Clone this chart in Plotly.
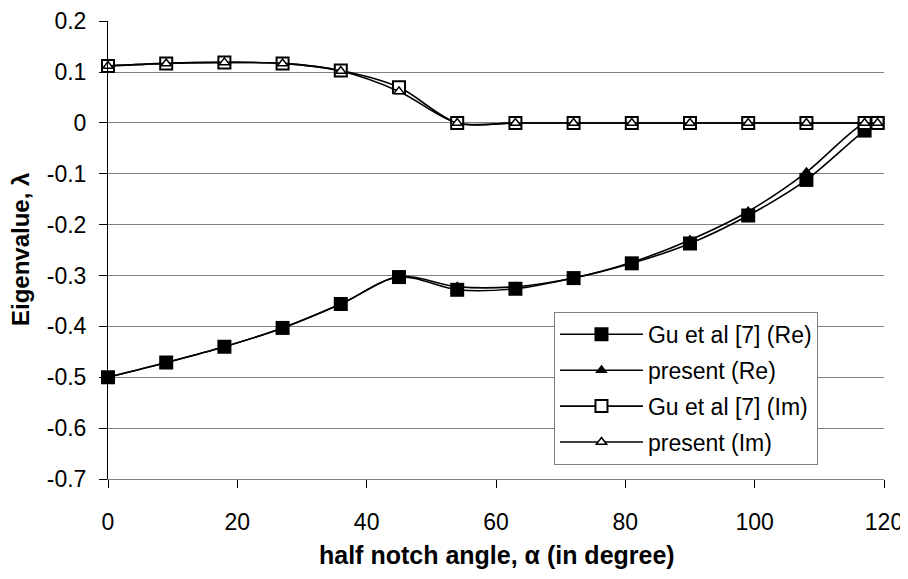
import plotly.graph_objects as go

# ---- data ----
angle = [0, 9, 18, 27, 36, 45, 54, 63, 72, 81, 90, 99, 108, 117, 119]
gu_re = [-0.500, -0.471, -0.440, -0.403, -0.356, -0.303, -0.328, -0.326,
         -0.305, -0.276, -0.237, -0.182, -0.112, -0.015, 0.000]
present_re = [-0.500, -0.471, -0.440, -0.403, -0.356, -0.302, -0.322, -0.322,
              -0.305, -0.274, -0.230, -0.174, -0.097, 0.000, 0.000]
gu_im = [0.112, 0.117, 0.119, 0.117, 0.103, 0.070, 0.000, 0.000,
         0.000, 0.000, 0.000, 0.000, 0.000, 0.000, 0.000]
present_im = [0.112, 0.117, 0.119, 0.117, 0.102, 0.062, 0.000, 0.000,
              0.000, 0.000, 0.000, 0.000, 0.000, 0.000, 0.000]

series_names = ["Gu et al [7] (Re)", "present (Re)", "Gu et al [7] (Im)", "present (Im)"]
y_tickvals = [0.2, 0.1, 0.0, -0.1, -0.2, -0.3, -0.4, -0.5, -0.6, -0.7]
y_ticktext = ["0.2", "0.1", "0", "-0.1", "-0.2", "-0.3", "-0.4", "-0.5", "-0.6", "-0.7"]
x_tickvals = [0, 20, 40, 60, 80, 100, 120]
x_title = "half notch angle, α (in degree)"
y_title = "Eigenvalue, λ"

FONT = "Liberation Sans, Arial, sans-serif"

fig = go.Figure()

markers = [
    dict(symbol="square", size=14, color="black", line=dict(width=0)),
    dict(symbol="triangle-up", size=11, color="black", line=dict(width=0)),
    dict(symbol="square", size=12, color="white", line=dict(width=2, color="black")),
    dict(symbol="triangle-up", size=9, color="white", line=dict(width=1.5, color="black")),
]
values = [gu_re, present_re, gu_im, present_im]

for i, (name, ys, mk) in enumerate(zip(series_names, values, markers)):
    fig.add_trace(go.Scatter(
        x=angle, y=ys, name=name, mode="lines+markers",
        line=dict(color="black", width=1.6, shape="spline", smoothing=0.9),
        marker=mk, cliponaxis=False, legendgroup=f"g{i}",
    ))

# the page body has an 8 px margin, so the figure is 900x571 to fill the window
fig.update_layout(
    width=900, height=571,
    margin=dict(l=100, r=24, t=13, b=100, autoexpand=False),
    paper_bgcolor="white", plot_bgcolor="white",
    font=dict(family=FONT, size=23, color="black"),
    showlegend=True,
    legend=dict(
        x=0.5747, y=0.365, xanchor="left", yanchor="top",
        bgcolor="white", bordercolor="#808080", borderwidth=1,
        font=dict(family=FONT, size=23, color="black"),
        tracegroupgap=3, itemwidth=83,
    ),
    xaxis=dict(
        range=[0, 120], tickvals=x_tickvals, showgrid=False, zeroline=False,
        automargin=False,
        showline=True, linecolor="#808080", linewidth=1,
        ticks="outside", ticklen=8, tickcolor="black", tickwidth=1,
        ticklabelstandoff=14, ticklabeloverflow="allow",
        tickfont=dict(family=FONT, size=23),
    ),
    yaxis=dict(
        range=[-0.7, 0.2004], tickvals=y_tickvals, ticktext=y_ticktext,
        automargin=False,
        showgrid=True, gridcolor="#808080", gridwidth=1, zeroline=False,
        showline=True, linecolor="black", linewidth=1,
        ticks="outside", ticklen=8, tickcolor="black", tickwidth=1,
        ticklabelstandoff=8, ticklabeloverflow="allow",
        tickfont=dict(family=FONT, size=23),
    ),
    annotations=[
        dict(text=f"<b>{x_title}</b>", xref="paper", yref="paper",
             x=0.501, y=-0.165, xanchor="center", yanchor="middle",
             showarrow=False, font=dict(family=FONT, size=25)),
        dict(text=f"<b>{y_title}</b>", xref="paper", yref="paper",
             x=-0.1134, y=0.5, xanchor="center", yanchor="middle",
             textangle=-90, showarrow=False, font=dict(family=FONT, size=24)),
    ],
)

fig.write_html("out.html")
